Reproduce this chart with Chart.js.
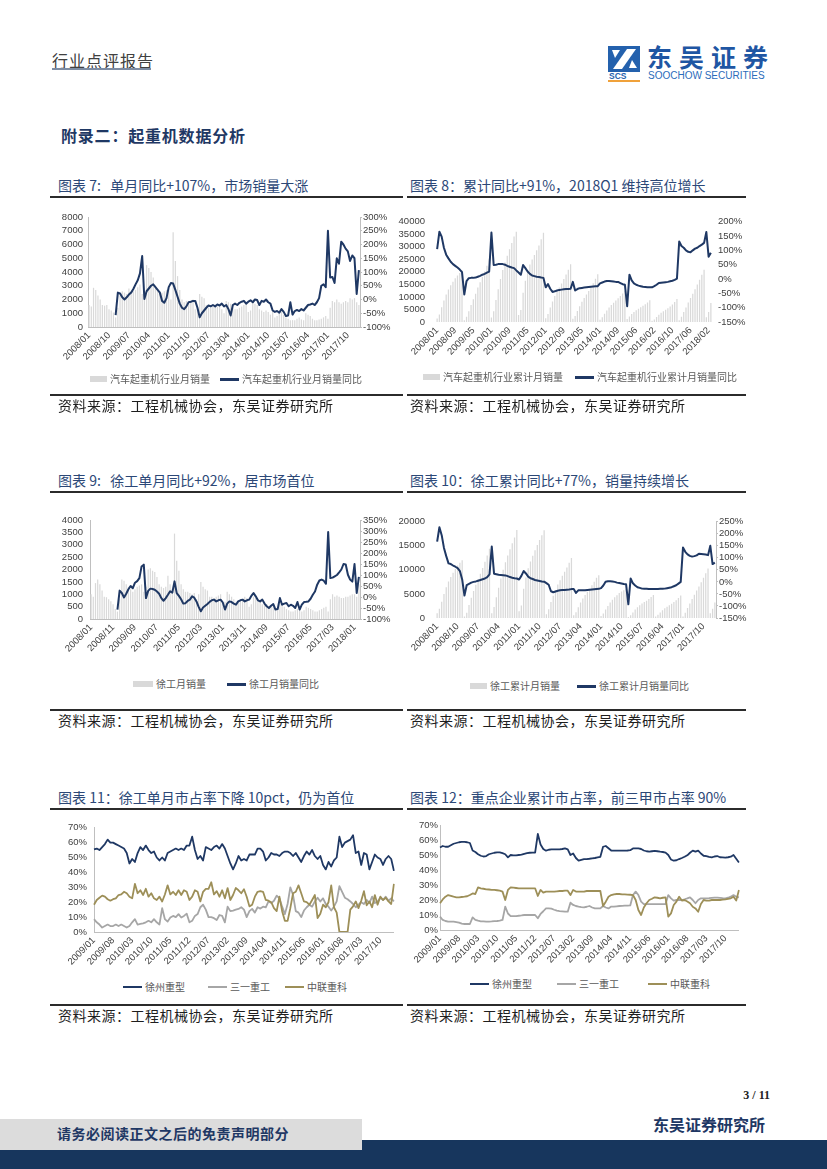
<!DOCTYPE html>
<html lang="zh-CN">
<head>
<meta charset="utf-8">
<title>行业点评报告 - 起重机数据分析</title>
<script src="https://cdn.jsdelivr.net/npm/chart.js@4.4.1/dist/chart.umd.min.js"></script>
<style>
  html, body { margin: 0; padding: 0; background: #fff; }
  body { position: relative; width: 827px; height: 1169px; overflow: hidden; font-family: "Noto Sans CJK SC", "Noto Sans", sans-serif; }
  .abs { position: absolute; white-space: nowrap; }
  canvas { position: absolute; }
  .title { position: absolute; font-size: 14px; line-height: 20px; color: #2c4877; white-space: nowrap; }
  .rule { position: absolute; height: 2px; background: #2b2b2b; }
  .src { position: absolute; font-size: 14px; line-height: 20px; color: #1e1e1e; letter-spacing: 0.5px; white-space: nowrap; }
  .lg { position: absolute; font-size: 10px; line-height: 14px; color: #595959; white-space: nowrap; display: flex; align-items: center; }
  .lg i { display: inline-block; margin-right: 3px; }
  .sw-bar { width: 17px; height: 6px; background: #d9d9d9; }
  .sw-line { width: 19px; height: 3px; }
</style>
</head>
<body>

<!-- page header -->
<div class="abs" style="left:52px;top:50px;font-size:16px;line-height:20px;color:#404040;letter-spacing:1px;">行业点评报告</div>
<div class="abs" style="left:52px;top:68px;width:99px;height:2px;background:#7d8ca3;"></div>

<svg class="abs" style="left:608px;top:46px" width="34" height="36">
  <rect x="0" y="0" width="32" height="26" fill="#2461ad"/>
  <path d="M19 3 L28 3 L14 23 L5 23 Z" fill="#fff"/>
  <path d="M4 4 L12 4 L7 12 Z" fill="#fff"/>
  <path d="M21 22 L29 22 L24 14 Z" fill="#fff"/>
  <text x="1" y="33" font-family="Liberation Sans" font-weight="bold" font-size="8.5" fill="#2461ad">SCS</text>
  <rect x="0" y="34" width="32" height="2" fill="#f0a13a"/>
</svg>
<div class="abs" style="left:647px;top:41px;font-size:25px;line-height:30px;font-weight:bold;color:#1f56a3;letter-spacing:7px;">东吴证券</div>
<div class="abs" style="left:648px;top:70px;font-family:'Liberation Sans';font-size:10px;line-height:12px;color:#2b6cbb;">SOOCHOW SECURITIES</div>

<div class="abs" style="left:61px;top:124px;font-size:16px;line-height:22px;font-weight:bold;color:#1f3864;letter-spacing:0.8px;">附录二：起重机数据分析</div>

<!-- row 1 -->
<div class="title" style="left:58px;top:175px;">图表 7:&nbsp;&nbsp; 单月同比+107%，市场销量大涨</div>
<div class="title" style="left:410px;top:175px;">图表 8：累计同比+91%，2018Q1 维持高位增长</div>
<div class="rule" style="left:50px;top:196px;width:353px;"></div>
<div class="rule" style="left:407px;top:196px;width:339px;"></div>

<canvas id="c7" width="355" height="170" style="left:50px;top:205px"></canvas>
<canvas id="c8" width="355" height="170" style="left:395px;top:205px"></canvas>

<div class="lg" style="left:90px;top:372px;"><i class="sw-bar"></i>汽车起重机行业月销量</div>
<div class="lg" style="left:220px;top:372px;"><i class="sw-line" style="background:#1f3864"></i>汽车起重机行业月销量同比</div>
<div class="lg" style="left:423px;top:370px;"><i class="sw-bar"></i>汽车起重机行业累计月销量</div>
<div class="lg" style="left:575px;top:370px;"><i class="sw-line" style="background:#1f3864"></i>汽车起重机行业累计月销量同比</div>

<div class="rule" style="left:50px;top:394px;width:353px;height:1.5px;"></div>
<div class="rule" style="left:407px;top:394px;width:339px;height:1.5px;"></div>
<div class="src" style="left:58px;top:395px;">资料来源：工程机械协会，东吴证券研究所</div>
<div class="src" style="left:410px;top:395px;">资料来源：工程机械协会，东吴证券研究所</div>

<!-- row 2 -->
<div class="title" style="left:58px;top:470px;">图表 9:&nbsp;&nbsp; 徐工单月同比+92%，居市场首位</div>
<div class="title" style="left:410px;top:470px;">图表 10：徐工累计同比+77%，销量持续增长</div>
<div class="rule" style="left:50px;top:491px;width:353px;"></div>
<div class="rule" style="left:407px;top:491px;width:339px;"></div>

<canvas id="c9" width="355" height="170" style="left:50px;top:505px"></canvas>
<canvas id="c10" width="355" height="170" style="left:395px;top:505px"></canvas>

<div class="lg" style="left:133px;top:677px;"><i class="sw-bar" style="width:20px"></i>徐工月销量</div>
<div class="lg" style="left:227px;top:677px;"><i class="sw-line" style="background:#1f3864"></i>徐工月销量同比</div>
<div class="lg" style="left:470px;top:679px;"><i class="sw-bar"></i>徐工累计月销量</div>
<div class="lg" style="left:577px;top:679px;"><i class="sw-line" style="background:#1f3864"></i>徐工累计月销量同比</div>

<div class="rule" style="left:50px;top:709px;width:353px;height:1.5px;"></div>
<div class="rule" style="left:407px;top:709px;width:339px;height:1.5px;"></div>
<div class="src" style="left:58px;top:710px;">资料来源：工程机械协会，东吴证券研究所</div>
<div class="src" style="left:410px;top:710px;">资料来源：工程机械协会，东吴证券研究所</div>

<!-- row 3 -->
<div class="title" style="left:58px;top:787px;">图表 11：徐工单月市占率下降 10pct，仍为首位</div>
<div class="title" style="left:410px;top:787px;">图表 12：重点企业累计市占率，前三甲市占率 90%</div>
<div class="rule" style="left:50px;top:808px;width:353px;"></div>
<div class="rule" style="left:407px;top:808px;width:339px;"></div>

<canvas id="c11" width="355" height="160" style="left:50px;top:815px"></canvas>
<canvas id="c12" width="345" height="160" style="left:405px;top:815px"></canvas>

<div class="lg" style="left:123px;top:980px;"><i class="sw-line" style="background:#1f3864;height:2px"></i>徐州重型</div>
<div class="lg" style="left:208px;top:980px;"><i class="sw-line" style="background:#a6a6a6;height:2px"></i>三一重工</div>
<div class="lg" style="left:285px;top:980px;"><i class="sw-line" style="background:#9d8f58;height:2px"></i>中联重科</div>
<div class="lg" style="left:470px;top:977px;"><i class="sw-line" style="background:#1f3864;height:2px"></i>徐州重型</div>
<div class="lg" style="left:557px;top:977px;"><i class="sw-line" style="background:#a6a6a6;height:2px"></i>三一重工</div>
<div class="lg" style="left:648px;top:977px;"><i class="sw-line" style="background:#9d8f58;height:2px"></i>中联重科</div>

<div class="rule" style="left:50px;top:1004px;width:353px;height:1.5px;"></div>
<div class="rule" style="left:407px;top:1004px;width:339px;height:1.5px;"></div>
<div class="src" style="left:58px;top:1005px;">资料来源：工程机械协会，东吴证券研究所</div>
<div class="src" style="left:410px;top:1005px;">资料来源：工程机械协会，东吴证券研究所</div>

<!-- footer -->
<div class="abs" style="right:57px;top:1087px;font-family:'Liberation Serif';font-weight:bold;font-size:12px;line-height:16px;color:#222;">3 / 11</div>
<div class="abs" style="left:653px;top:1113px;font-size:16px;line-height:22px;font-weight:bold;color:#1f3864;">东吴证券研究所</div>
<div class="abs" style="left:0;top:1140px;width:827px;height:29px;background:#17365d;"></div>
<div class="abs" style="left:0;top:1119px;width:362px;height:31px;background:#dcdcdc;"></div>
<div class="abs" style="left:57px;top:1123px;font-size:14px;line-height:20px;font-weight:bold;color:#1f3864;letter-spacing:0.5px;">请务必阅读正文之后的免责声明部分</div>

<script>
/**
 * Data - values
 */
const TICKS_7 = ['2008/01', '2008/10', '2009/07', '2010/04', '2011/01', '2011/10', '2012/07', '2013/04', '2014/01', '2014/10', '2015/07', '2016/04', '2017/01', '2017/10'];
const TICKS_8 = ['2008/01', '2008/09', '2009/05', '2010/01', '2010/09', '2011/05', '2012/01', '2012/09', '2013/05', '2014/01', '2014/09', '2015/06', '2016/02', '2016/10', '2017/06', '2018/02'];
const TICKS_9 = ['2008/01', '2008/11', '2009/09', '2010/07', '2011/05', '2012/03', '2013/01', '2013/11', '2014/09', '2015/07', '2016/05', '2017/03', '2018/01'];
const TICKS_10 = TICKS_7;
const TICKS_SHARE = ['2009/01', '2009/08', '2010/03', '2010/10', '2011/05', '2011/12', '2012/07', '2013/02', '2013/09', '2014/04', '2014/11', '2015/06', '2016/01', '2016/08', '2017/03', '2017/10'];

// 汽车起重机行业月销量 (台), 2008/01 - 2018/03
const CRANE_MONTHLY = [
    1600, 1500, 2850, 2700, 2300, 2000, 1600, 1550, 1600, 1300, 1200, 1050,
    700, 1400, 2300, 2600, 2500, 2400, 2800, 2400, 2600, 2700, 2900, 3100,
    2400, 2500, 4500, 4300, 4000, 3600, 3000, 2700, 2600, 2500, 2600, 2700,
    2800, 2000, 6900, 4800, 3700, 2700, 2000, 1800, 1900, 1700, 1900, 2000,
    1300, 1500, 2400, 2200, 2100, 1600, 1400, 1400, 1500, 1500, 1500, 1700,
    1300, 1000, 1900, 1800, 1700, 1400, 1300, 1300, 1400, 1500, 1600, 1700,
    1100, 1200, 1900, 1700, 1600, 1300, 1200, 1100, 1200, 1100, 900, 1200,
    700, 800, 1200, 1100, 900, 700, 600, 500, 500, 500, 600, 700,
    550, 500, 1000, 900, 800, 600, 500, 500, 550, 600, 700, 800,
    600, 1400, 1900, 1800, 2000, 1800, 1700, 1800, 1900, 1800, 2100, 2000,
    2100, 1800, 1600
];
// 汽车起重机行业月销量同比 (%)
const CRANE_MONTHLY_YOY = [
    null, null, null, null, null, null, null, null, null, null, null, null,
    -57, 25, 22, 8, 0, 8, 18, 25, 38, 55, 70, 95,
    158, 2, 30, 40, 50, 55, 45, 35, 25, -5, -12, 5,
    45, 60, 58, 35, 10, -15, -30, -35, -25, -10, -8, -5,
    -5, -30, -65, -50, -40, -30, -22, -25, -20, -25, -18, -22,
    -15, -25, -20, -35, -58, -20, -15, -20, -12, -8, -5, -15,
    -8, -3, -10, 0, -2, -20, -5, -8, 0, -10, -15, -40,
    -45, -42, -48, -35, -45, -60, -58, -10, -55, -42, -38, -42,
    -35, -40, -30, -20, -18, -15, -20, -10, 5, 50, 55, 45,
    250, 80, 82, 60, 150, 130, 210, 200, 185, 175, 140, 160,
    150, 20, 107
];

// 汽车起重机行业累计月销量 (台), 2015/01 not reported
const CRANE_CUM = [
    1400, 3000, 5900, 8600, 11000, 13000, 14700, 16100, 17400, 18500, 19500, 20500,
    700, 2100, 4300, 6800, 9100, 11300, 13800, 15900, 18000, 20100, 22400, 25000,
    1800, 4300, 8800, 13100, 17100, 20700, 23700, 26400, 29000, 31500, 34100, 36000,
    2800, 4800, 11700, 16500, 20200, 22900, 24900, 26700, 28600, 30500, 33000, 35600,
    1500, 3200, 5800, 8200, 10400, 12200, 13800, 15400, 17100, 18900, 20800, 23000,
    1300, 2400, 4400, 6300, 8100, 9600, 11000, 12400, 13900, 15500, 17200, 19000,
    900, 1900, 3300, 4600, 5800, 6800, 7700, 8600, 9500, 10400, 11400, 12500,
    1200, 2200, 3200, 4000, 4700, 5300, 5900, 6500, 7100, 7800, 8700,
    500, 1000, 2000, 2900, 3700, 4300, 4900, 5500, 6200, 7000, 8000, 9200,
    700, 2100, 4000, 5800, 7800, 9600, 11300, 13100, 15000, 16800, 18800, 20800,
    1900, 4000, 7600
];
const CRANE_CUM_YOY = [
    104, 165, 148, 109, 85, 72, 60, 52, 46, 40, 33, 24,
    -54, -7, 3, 4, 4, 5, 8, 11, 15, 18, 22, 26,
    162, 49, 50, 52, 52, 52, 50, 46, 43, 40, 38, 30,
    23, 15, 49, 38, 26, 18, 12, 10, 8, 7, 5, 4,
    -29, -18, -34, -45, -43, -40, -38, -37, -36, -35, -35, -34,
    -10, -40, -35, -32, -31, -30, -29, -28, -27, -26, -25, -25,
    -15, -12, -9, -7, -7, -8, -9, -10, -10, -14, -18, -20,
    -95, 15, -5, -15, -20, -23, -25, -27, -28, -29, -29,
    -29, -25, -20, -14, -13, -12, -11, -10, -8, -6, -3, 1,
    131, 115, 109, 100, 95, 93, 100, 106, 109, 115, 120, 126,
    164, 78, 92
];

// 徐工月销量 (台)
const XCMG_MONTHLY = [
    1000, 900, 1450, 1600, 1400, 1150, 900, 880, 800, 720, 600, 400,
    300, 800, 1600, 1550, 1400, 1300, 1200, 1100, 1200, 1300, 1350, 1400,
    1100, 1300, 2000, 2050, 1950, 1900, 1700, 1400, 1300, 1250, 1300, 1750,
    1400, 1200, 3450, 2350, 1950, 1400, 1200, 1100, 1100, 1050, 1000, 1050,
    800, 1000, 1500, 1300, 1200, 1150, 900, 900, 850, 900, 950, 1000,
    600, 700, 1100, 1000, 900, 800, 700, 700, 750, 800, 900, 850,
    500, 600, 900, 850, 800, 700, 600, 550, 600, 500, 500, 550,
    350, 400, 600, 600, 500, 400, 350, 300, 300, 350, 400, 450,
    300, 350, 500, 450, 400, 350, 300, 300, 350, 400, 450, 500,
    300, 800, 1000, 900, 950, 900, 850, 850, 900, 900, 950, 1000,
    1000, 900, 1400
];
const XCMG_MONTHLY_YOY = [
    null, null, null, null, null, null, null, null, null, null, null, null,
    -57, 29, 18, -2, 15, 35, 50, 40, 65, 72, 86, 139,
    147, -5, 28, 38, 36, 33, 25, 15, -5, -17, -5, 10,
    26, 20, 71, 18, 5, -10, -30, -28, -18, -12, 3, -3,
    -20, -45, -65, -48, -40, -32, -22, -15, -12, -20, -15, -12,
    -25, -57, -30, -20, -23, -30, -35, -20, -15, -12, -20, -15,
    -12, 5, 18, 3, -15, -20, -12, -30, -42, -50, -40, -32,
    -57, -55, -5, -35, -30, -27, -42, -35, -40, -50, -23, -57,
    -35, -23, -22, -20, -8, 10, 25, 56, 75, 79, 74, 60,
    295, 86, 88, 94, 100, 112, 125, 150, 148, 101, 79, 70,
    150, 18, 92
];

// 徐工累计月销量 (台)
const XCMG_CUM = [
    1000, 1900, 3400, 5000, 6400, 7600, 8500, 9400, 10200, 10900, 11500, 12000,
    300, 1100, 2700, 4200, 5600, 6900, 8100, 9200, 10400, 11700, 13000, 14400,
    1000, 2300, 4300, 6300, 8200, 10000, 11600, 13000, 14300, 15500, 16700, 18300,
    1400, 2600, 6050, 8400, 10350, 11750, 12950, 14050, 15150, 16200, 17200, 18250,
    800, 1800, 3300, 4600, 5800, 6950, 7850, 8750, 9600, 10500, 11450, 12450,
    550, 1200, 2250, 3200, 4050, 4800, 5450, 6100, 6800, 7550, 8350, 8900,
    400, 950, 1750, 2500, 3200, 3800, 4300, 4750, 5200, 5500, 5750, 6000,
    200, 550, 1150, 1750, 2250, 2650, 3000, 3300, 3600, 3950, 4350, 4800,
    300, 650, 1150, 1600, 2000, 2350, 2650, 2950, 3300, 3700, 4150, 4650,
    300, 1100, 2100, 3000, 3950, 4850, 5700, 6550, 7450, 8350, 9300, 10300,
    1000, 1900, 3200
];
const XCMG_CUM_YOY = [
    167, 227, 194, 141, 107, 77, 74, 68, 63, 57, 45, 10,
    -57, -13, -8, -3, 0, 2, 5, 8, 11, 14, 20, 31,
    147, 34, 32, 30, 29, 28, 27, 24, 20, 17, 15, 14,
    10, 25, 45, 35, 22, 15, 12, 8, 6, 4, 2, 1,
    -5, -12, -39, -43, -40, -37, -35, -34, -34, -33, -32, -30,
    -30, -46, -35, -35, -35, -35, -34, -33, -32, -31, -30, -29,
    -26, -15, 1, 3, 3, 2, 0, -3, -5, -7, -9, -10,
    -93, 14, -6, -15, -22, -25, -28, -29, -29, -30, -30, -30,
    -30, -30, -29, -29, -28, -26, -24, -22, -18, -14, -7, 0,
    143, 125, 114, 108, 105, 107, 110, 117, 116, 115, 114, 111,
    150, 74, 80
];

// 单月市占率 (%), 2009/01 - 2018/03
const SHARE_XCMG_M = [
    55.4, 56, 55, 57, 59, 62, 60, 60, 59, 58, 57, 56,
    53, 46, 49, 47, 53, 57, 55, 58, 55, 53, 54, 50,
    48, 50, 48, 53, 54, 55, 56, 55, 56, 55, 58, 58,
    64, 55, 49, 51, 48, 57, 56, 55, 57, 58, 56, 59,
    56, 51, 46, 42, 46, 51, 48, 49, 48, 52, 52, 52,
    56, 56, 54, 48, 50, 53, 52, 52, 51, 53, 54, 54,
    53, 51, 53, 50, 47, 51, 54, 52, 55, 51, 49, 51,
    45, 42, 47, 44, 48, 50, 64, 57, 60, 61, 62, 65,
    53, 54, 45, 53, 52, 42, 47, 52, 50, 49, 45, 49,
    51, 49, 41
];
const SHARE_SANY_M = [
    8.6, 6.5, 5, 3, 4, 5, 4, 4, 5, 4, 5, 4,
    3, 4, 6.5, 8.6, 5, 5.4, 5.8, 6.5, 7.5, 6.5, 8.6, 6.5,
    5, 16, 8.6, 7, 9.7, 10.8, 10, 12, 9.7, 10.8, 12.3, 6.5,
    7.5, 10.8, 12, 16.6, 18.3, 15, 10, 10, 9.3, 8, 11.4, 10.8,
    6.5, 17, 14, 14.4, 15, 15.5, 16.6, 15, 10, 14, 15.5, 13,
    16.6, 15.7, 17, 16.6, 20.5, 19.4, 21, 24.4, 22.6, 17, 12, 18.8,
    30, 24.8, 14, 13, 10, 14.4, 16.6, 18.3, 17, 20.5, 23, 20.5,
    22.6, 18.8, 17, 14.4, 17, 20.5, 30.8, 27, 23, 22, 20.5, 18.8,
    16.6, 18.3, 20, 18.8, 21.5, 19.4, 23.7, 19.4, 20.5, 23, 21.5, 23.7,
    21, 22.6, 20.5
];
const SHARE_ZOOM_M = [
    18.3, 21.5, 23, 24.4, 23.7, 22, 21, 22, 22.6, 24.8, 25.2, 27,
    26, 23.7, 22.6, 32.3, 26, 28, 24.8, 29, 23.7, 26, 22.6, 21.5,
    23.7, 20.5, 25.2, 31.3, 25.2, 27, 24.8, 28, 24.8, 28, 27, 21.5,
    23.7, 28, 27, 20.5, 27, 29, 29, 33.4, 25.2, 27.4, 23.7, 28,
    22.6, 29.5, 21.5, 24.8, 29.5, 28, 26, 28.7, 23.7, 17.2, 18.3, 23.7,
    27, 27.4, 27, 21.5, 21, 20, 16, 14, 23.7, 14, 7.5, 7.5,
    16, 26, 27, 31.3, 26, 20.5, 20, 18.3, 21.5, 24.8, 9.3, 12.3,
    18.3, 16.6, 20, 31.3, 16.6, 13, 0, 0, 0, 0, 15, 17.2,
    20.5, 16, 21, 27.4, 17.9, 20.5, 16.6, 24.8, 18.3, 23.7, 21.5, 23,
    20.5, 18.8, 32.3
];

// 累计市占率 (%)
const SHARE_XCMG_C = [
    55, 56, 55.5, 55.5, 56.5, 57.5, 58, 58.5, 58.7, 58.7, 58.5, 58,
    53, 52, 50.5, 49.5, 49, 49.3, 50.5, 51, 51.5, 51.8, 51.8, 51.2,
    50.5, 48.4, 50, 49.8, 49.8, 50, 50.2, 50.8, 51.2, 51.5, 51.6, 51.6,
    64, 57, 54, 52.9, 53.5, 53.8, 53.8, 53.8, 53.8, 54, 54.4, 53.8,
    50, 51, 48, 46.2, 46.8, 47.3, 47.3, 47.5, 47.8, 48, 48.4, 48.8,
    55.5, 56, 54.5, 53, 52.9, 52.9, 52.9, 52.9, 52.9, 53, 53.2, 54.4,
    54.4, 54.4, 54, 53, 52.5, 52.2, 52.5, 52.7, 52.5, 52.2, 52, 51.6,
    50, 47, 46.2, 46.5, 47.3, 48, 48.8, 49.8, 51.5, 52.9, 52.2, 52.9,
    51, 49.5, 49.3, 48.8, 48.4, 49, 49.3, 48.5, 48.4, 48.2, 48.5, 48.9,
    50, 47.5, 45
];
const SHARE_SANY_C = [
    8.9, 6.7, 6, 5.6, 5.6, 5.6, 5.3, 4.9, 4.2, 4, 4, 4,
    8.4, 6.7, 6.2, 5.8, 5.7, 5.6, 5.6, 5.7, 5.9, 6, 6.3, 6.7,
    15.6, 11, 9.3, 9.3, 9.3, 9.5, 9.7, 10, 10, 10, 10, 10,
    7.8, 10.7, 12.5, 14.4, 14.4, 14.2, 13.5, 12.9, 12.6, 12.4, 12.2, 12.2,
    18.2, 16.7, 16, 15.6, 15.3, 15.1, 15.5, 16, 15, 14.4, 14.4, 14.4,
    16, 15, 14.4, 15.6, 15.6, 15.8, 16, 16.1, 16.2, 16.3, 16.4, 23.3,
    25.6, 23.3, 18.9, 17.3, 17.3, 17.3, 17.3, 17.3, 17.3, 17.3, 17.3, 17.3,
    23.3, 21.1, 19.6, 20, 20, 20, 20.5, 21.1, 21.8, 20, 17.8, 20,
    21.1, 21.1, 21.1, 21.2, 21.4, 21.6, 21.6, 21.4, 21.2, 21.1, 21.5, 22.2,
    23.3, 22.2, 21.8
];
const SHARE_ZOOM_C = [
    17.8, 20.4, 22.2, 23.3, 22.8, 22.2, 21.8, 21.8, 22, 22.2, 22.5, 23.3,
    24.4, 24, 28.4, 27.8, 27.5, 27.1, 27, 26.8, 26.7, 26.5, 26.2, 25.6,
    20, 26.7, 28.4, 28.2, 28, 27.8, 27.8, 27.8, 27.8, 27.8, 27.8, 27.8,
    22.7, 26.7, 24.9, 25.6, 25.6, 25.6, 25.6, 25.8, 26, 26, 26.2, 26.2,
    23.3, 26.7, 25.6, 25.6, 25.6, 25.6, 26, 26, 26, 26, 26, 26,
    16, 18.9, 22.2, 23.3, 23.8, 24, 24, 23.8, 23.8, 23.6, 23.5, 23.3,
    20, 13.3, 10, 15, 17.8, 20, 20.8, 21.8, 21.5, 21.1, 21.5, 21.8,
    8.9, 11.1, 16.7, 18.9, 22.2, 19.6, 20, 19, 17.8, 15.5, 14.4, 12.2,
    17.3, 20, 19.6, 19.6, 20, 20, 20, 20, 20.2, 20.4, 20.8, 21.1,
    22.2, 19.6, 26.7
];

const NAVY = '#1f3864';
const BAR_GREY = '#d9d9d9';
const SANY_GREY = '#a6a6a6';
const ZOOM_OLIVE = '#9d8f58';
const AXIS_GREY = '#bfbfbf';

Chart.defaults.font.family = "'Liberation Sans', Arial, sans-serif";
Chart.defaults.font.size = 9.5;
Chart.defaults.color = '#404040';

/**
 * Month labels between two months, optionally leaving some out
 */
function monthRange(y0, m0, y1, m1, skip) {
    const out = [];
    let y = y0, m = m0;
    while (y < y1 || (y === y1 && m <= m1)) {
        const label = y + '/' + String(m).padStart(2, '0');
        if (!skip || !skip.includes(label)) out.push(label);
        m++;
        if (m > 12) { m = 1; y++; }
    }
    return out;
}

/**
 * Force an axis box to a fixed size so plot areas line up with the report
 */
function fixSize(size) {
    return (scale) => {
        if (scale.isHorizontal()) scale.height = size;
        else scale.width = size;
    };
}

/**
 * Only show the tick labels printed in the report
 */
function pickTicks(list) {
    return function (value) {
        const label = this.getLabelForValue(value);
        return list.includes(label) ? label : '';
    };
}

const pct = (v) => v + '%';
const plain = (v) => String(v);

/**
 * Bars on the left axis, YoY line on the right axis
 */
function comboChart(id, o) {
    return new Chart(document.getElementById(id), {
        type: 'bar',
        data: {
            labels: o.labels,
            datasets: [
                {
                    type: 'line',
                    data: o.line,
                    yAxisID: 'y1',
                    borderColor: NAVY,
                    borderWidth: 2,
                    pointRadius: 0,
                    tension: 0,
                    borderJoinStyle: 'round',
                    order: 0
                },
                {
                    type: 'bar',
                    data: o.bars,
                    yAxisID: 'y',
                    backgroundColor: BAR_GREY,
                    barPercentage: 0.55,
                    categoryPercentage: 1,
                    order: 1
                }
            ]
        },
        options: {
            responsive: false,
            animation: false,
            devicePixelRatio: 1,
            layout: { padding: { top: o.top, left: 0, right: 0, bottom: 0 } },
            plugins: { legend: { display: false }, tooltip: { enabled: false } },
            scales: {
                x: {
                    offset: true,
                    grid: { display: false, drawTicks: false },
                    border: { display: o.xBorder, color: AXIS_GREY },
                    ticks: { autoSkip: false, maxRotation: 45, minRotation: 45, padding: 3, callback: pickTicks(o.ticks) },
                    afterFit: fixSize(o.bottom)
                },
                y: {
                    position: 'left',
                    min: 0,
                    max: o.yMax,
                    ticks: { stepSize: o.yStep, autoSkip: false, padding: o.leftPad, callback: plain },
                    grid: { display: false, drawTicks: false },
                    border: { display: o.leftBorder, color: AXIS_GREY },
                    afterFit: fixSize(o.left)
                },
                y1: {
                    position: 'right',
                    min: o.pMin,
                    max: o.pMax,
                    ticks: { stepSize: 50, autoSkip: false, padding: o.rightPad, callback: pct },
                    grid: { display: o.rightTicks, drawOnChartArea: false, drawTicks: o.rightTicks, tickLength: 2, color: AXIS_GREY },
                    border: { display: o.rightBorder, color: AXIS_GREY },
                    afterFit: fixSize(o.right)
                }
            }
        }
    });
}

/**
 * Three market-share lines
 */
function shareChart(id, o) {
    const line = (data, color) => ({
        data: data,
        borderColor: color,
        borderWidth: 1.8,
        pointRadius: 0,
        tension: 0,
        borderJoinStyle: 'round'
    });
    return new Chart(document.getElementById(id), {
        type: 'line',
        data: {
            labels: o.labels,
            datasets: [line(o.zoom, ZOOM_OLIVE), line(o.sany, SANY_GREY), line(o.xcmg, NAVY)]
        },
        options: {
            responsive: false,
            animation: false,
            devicePixelRatio: 1,
            layout: { padding: { top: o.top, left: 0, right: 0, bottom: 0 } },
            plugins: { legend: { display: false }, tooltip: { enabled: false } },
            scales: {
                x: {
                    offset: false,
                    grid: { display: false, drawTicks: false },
                    border: { display: true, color: AXIS_GREY },
                    ticks: { autoSkip: false, maxRotation: 45, minRotation: 45, padding: 3, callback: pickTicks(TICKS_SHARE) },
                    afterFit: fixSize(o.bottom)
                },
                y: {
                    min: 0,
                    max: 70,
                    ticks: { stepSize: 10, autoSkip: false, padding: o.leftPad, callback: pct },
                    grid: { display: false, drawTicks: false },
                    border: { display: true, color: AXIS_GREY },
                    afterFit: fixSize(o.left)
                }
            }
        }
    });
}

const LABELS_MAIN = monthRange(2008, 1, 2018, 3);
const LABELS_CUM = monthRange(2008, 1, 2018, 3, ['2015/01']);
const LABELS_SHARE = monthRange(2009, 1, 2018, 3);

comboChart('c7', {
    labels: LABELS_MAIN, bars: CRANE_MONTHLY, line: CRANE_MONTHLY_YOY, ticks: TICKS_7,
    yMax: 8000, yStep: 1000, pMin: -100, pMax: 300,
    left: 38, right: 45, top: 12, bottom: 48, leftPad: 5, rightPad: 1,
    xBorder: true, leftBorder: true, rightBorder: true, rightTicks: true
});

comboChart('c8', {
    labels: LABELS_CUM, bars: CRANE_CUM, line: CRANE_CUM_YOY, ticks: TICKS_8,
    yMax: 40000, yStep: 5000, pMin: -150, pMax: 200,
    left: 41, right: 38, top: 11, bottom: 53, leftPad: 11, rightPad: 6,
    xBorder: false, leftBorder: false, rightBorder: false, rightTicks: false
});

comboChart('c9', {
    labels: LABELS_MAIN, bars: XCMG_MONTHLY, line: XCMG_MONTHLY_YOY, ticks: TICKS_9,
    yMax: 4000, yStep: 500, pMin: -100, pMax: 350,
    left: 40, right: 45, top: 15, bottom: 56, leftPad: 7, rightPad: 1,
    xBorder: true, leftBorder: true, rightBorder: true, rightTicks: true
});

comboChart('c10', {
    labels: LABELS_MAIN, bars: XCMG_CUM, line: XCMG_CUM_YOY, ticks: TICKS_10,
    yMax: 20000, yStep: 5000, pMin: -150, pMax: 250,
    left: 41, right: 34, top: 13, bottom: 57, leftPad: 11, rightPad: 1,
    xBorder: false, leftBorder: false, rightBorder: true, rightTicks: true
});

shareChart('c11', {
    labels: LABELS_SHARE, xcmg: SHARE_XCMG_M, sany: SHARE_SANY_M, zoom: SHARE_ZOOM_M,
    left: 44, top: 8, bottom: 43, leftPad: 7
});

shareChart('c12', {
    labels: LABELS_SHARE, xcmg: SHARE_XCMG_C, sany: SHARE_SANY_C, zoom: SHARE_ZOOM_C,
    left: 35, top: 10, bottom: 45, leftPad: 2
});
</script>
</body>
</html>
